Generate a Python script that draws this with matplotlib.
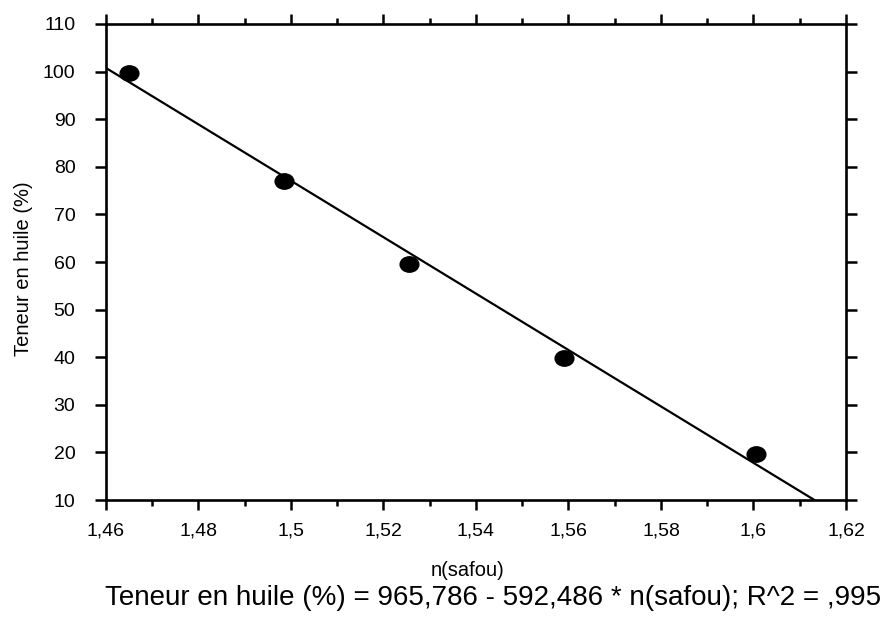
import numpy as np
import matplotlib.pyplot as plt
from matplotlib.path import Path
from matplotlib.ticker import MultipleLocator, FuncFormatter

plt.rcParams['font.family'] = ['Liberation Sans', 'DejaVu Sans']
plt.rcParams['xtick.labelsize'] = 14
plt.rcParams['ytick.labelsize'] = 14

# measured points
n_safou = [1.465, 1.4985, 1.5255, 1.559, 1.6005]
teneur = [99.8, 77.0, 59.6, 39.8, 19.7]

# linear fit reported under the chart
intercept = 965.786
slope = -592.486
r2_txt = ",995"

fig = plt.figure(figsize=(8.84, 6.18), dpi=100)
ax = fig.add_axes([0.1199, 0.1909, 0.8371, 0.7703])

# fitted line, clipped at the bottom of the y range
x0 = 1.46
x1 = (10 - intercept) / slope
xs = np.array([x0, x1])
ax.plot(xs, intercept + slope * xs, color='black', lw=1.6, zorder=2)

# slightly flattened dots
circ = Path.unit_circle()
ell = Path(circ.vertices * np.array([1.0, 0.82]), circ.codes)
ax.plot(n_safou, teneur, linestyle='none', marker=ell, markersize=13.5,
        color='black', zorder=3)

ax.set_xlim(1.46, 1.62)
ax.set_ylim(10, 110)
ax.xaxis.set_major_locator(MultipleLocator(0.02))
ax.xaxis.set_minor_locator(MultipleLocator(0.01))
ax.yaxis.set_major_locator(MultipleLocator(10))


def comma_fmt(v, pos):
    s = f"{v:.2f}".rstrip('0').rstrip('.')
    return s.replace('.', ',')


ax.xaxis.set_major_formatter(FuncFormatter(comma_fmt))
ax.yaxis.set_major_formatter(FuncFormatter(lambda v, p: f"{v:.0f}"))

for sp in ax.spines.values():
    sp.set_linewidth(1.9)

ax.tick_params(axis='both', which='both', direction='out', width=1.8,
               top=True, right=True)
ax.tick_params(axis='x', which='major', length=7.5, pad=9, labelsize=14)
ax.tick_params(axis='x', which='minor', length=4)
ax.tick_params(axis='y', which='major', length=8, pad=14, labelsize=14)

ax.set_xlabel("n(safou)", fontsize=14.5)
ax.xaxis.set_label_coords(0.488, -0.128)
ax.set_ylabel("Teneur en huile (%)", fontsize=14.5)
ax.yaxis.set_label_coords(-0.099, 0.487)

eq = f"Teneur en huile (%) = {intercept:.3f} - {abs(slope):.3f} * n(safou); R^2 = {r2_txt}"
fig.text(0.558, 0.032, eq.replace('.', ','), ha='center', va='center', fontsize=20)

fig.savefig("out.png", dpi=100)
